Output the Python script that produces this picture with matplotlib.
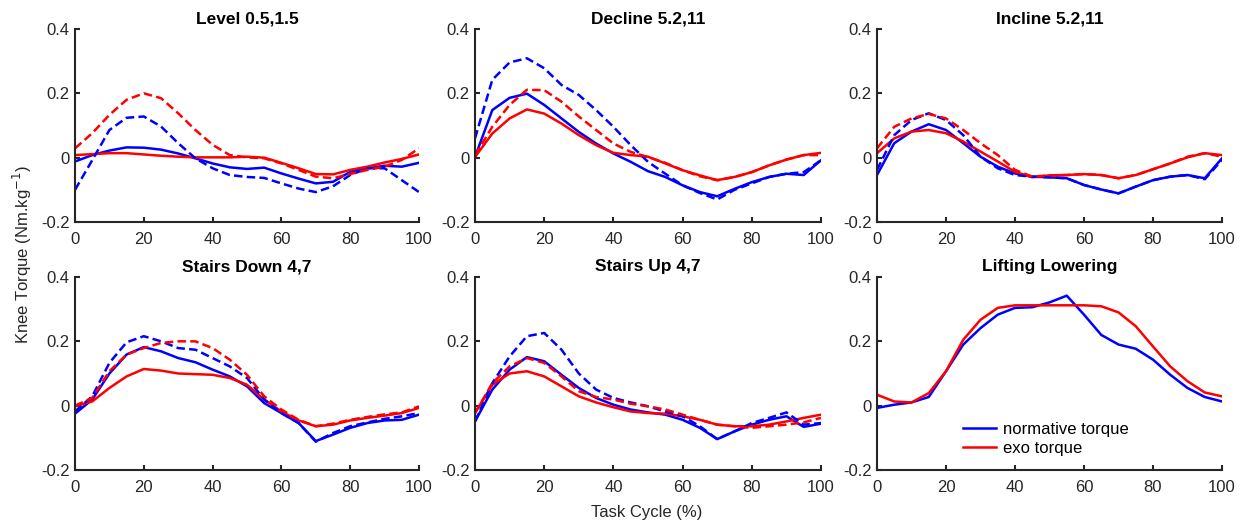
import numpy as np
import matplotlib
matplotlib.use("Agg")
import matplotlib.pyplot as plt

plt.rcParams['font.family'] = ['Liberation Sans', 'DejaVu Sans']

titles = ["Level 0.5,1.5", "Decline 5.2,11", "Incline 5.2,11",
          "Stairs Down 4,7", "Stairs Up 4,7", "Lifting Lowering"]

x = [0, 5, 10, 15, 20, 25, 30, 35, 40, 45, 50, 55, 60, 65, 70, 75, 80, 85, 90, 95, 100]

# Level 0.5,1.5
level_norm = [-0.012, 0.008, 0.022, 0.032, 0.031, 0.025, 0.013, -0.002, -0.018, -0.030, -0.035, -0.031,
              -0.049, -0.065, -0.080, -0.075, -0.044, -0.033, -0.025, -0.028, -0.016]
level_norm_d = [-0.100, -0.008, 0.086, 0.124, 0.128, 0.097, 0.045, -0.002, -0.033, -0.054, -0.060, -0.063,
                -0.080, -0.096, -0.107, -0.089, -0.054, -0.033, -0.033, -0.070, -0.107]
level_exo = [0.008, 0.011, 0.014, 0.014, 0.010, 0.006, 0.003, 0.001, 0.001, 0.001, 0.003, 0.000,
             -0.016, -0.033, -0.051, -0.052, -0.038, -0.028, -0.015, -0.004, 0.010]
level_exo_d = [0.029, 0.076, 0.133, 0.180, 0.200, 0.185, 0.138, 0.086, 0.040, 0.008, 0.001, -0.002,
               -0.018, -0.038, -0.059, -0.064, -0.051, -0.038, -0.028, -0.007, 0.029]

# Decline 5.2,11
dec_norm = [0.002, 0.148, 0.186, 0.199, 0.164, 0.122, 0.080, 0.044, 0.013, -0.013, -0.042, -0.060,
            -0.086, -0.107, -0.120, -0.097, -0.076, -0.060, -0.050, -0.054, -0.008]
dec_norm_d = [0.060, 0.242, 0.296, 0.309, 0.278, 0.226, 0.195, 0.148, 0.096, 0.039, -0.013, -0.050,
              -0.086, -0.110, -0.130, -0.100, -0.080, -0.060, -0.050, -0.045, -0.008]
dec_exo = [0.002, 0.075, 0.122, 0.150, 0.137, 0.106, 0.070, 0.039, 0.015, 0.008, 0.003, -0.018,
           -0.039, -0.055, -0.070, -0.060, -0.045, -0.024, -0.006, 0.008, 0.015]
dec_exo_d = [0.008, 0.096, 0.164, 0.211, 0.210, 0.174, 0.128, 0.086, 0.044, 0.018, 0.002, -0.016,
             -0.039, -0.058, -0.070, -0.060, -0.045, -0.024, -0.006, 0.008, 0.008]

# Incline 5.2,11
inc_norm = [-0.054, 0.045, 0.081, 0.104, 0.086, 0.045, 0.003, -0.028, -0.049, -0.059, -0.061, -0.064,
            -0.085, -0.099, -0.111, -0.090, -0.070, -0.059, -0.054, -0.064, -0.002]
inc_norm_d = [-0.038, 0.070, 0.117, 0.138, 0.117, 0.070, 0.003, -0.033, -0.054, -0.059, -0.061, -0.064,
              -0.085, -0.099, -0.111, -0.090, -0.070, -0.059, -0.054, -0.067, -0.007]
inc_exo = [0.014, 0.060, 0.081, 0.086, 0.076, 0.050, 0.019, -0.012, -0.044, -0.061, -0.055, -0.054,
           -0.051, -0.054, -0.064, -0.054, -0.036, -0.018, 0.001, 0.014, 0.008]
inc_exo_d = [0.029, 0.096, 0.122, 0.136, 0.122, 0.086, 0.045, 0.008, -0.038, -0.059, -0.055, -0.054,
             -0.051, -0.054, -0.064, -0.054, -0.036, -0.018, 0.003, 0.014, 0.003]

# Stairs Down 4,7
sd_norm = [-0.025, 0.019, 0.100, 0.159, 0.182, 0.169, 0.148, 0.135, 0.112, 0.091, 0.060, 0.008,
           -0.023, -0.054, -0.110, -0.090, -0.069, -0.054, -0.046, -0.044, -0.028]
sd_norm_d = [-0.018, 0.029, 0.133, 0.197, 0.216, 0.200, 0.179, 0.174, 0.148, 0.122, 0.086, 0.019,
             -0.023, -0.054, -0.112, -0.085, -0.064, -0.052, -0.041, -0.033, -0.023]
sd_exo = [-0.002, 0.013, 0.055, 0.091, 0.114, 0.109, 0.100, 0.098, 0.096, 0.086, 0.065, 0.019,
          -0.018, -0.046, -0.064, -0.059, -0.046, -0.038, -0.031, -0.023, -0.007]
sd_exo_d = [0.000, 0.024, 0.107, 0.159, 0.179, 0.195, 0.200, 0.200, 0.179, 0.143, 0.096, 0.029,
            -0.012, -0.044, -0.064, -0.056, -0.044, -0.035, -0.027, -0.021, -0.002]

# Stairs Up 4,7
su_norm = [-0.049, 0.050, 0.112, 0.151, 0.138, 0.096, 0.055, 0.024, 0.003, -0.012, -0.021, -0.028,
           -0.044, -0.069, -0.104, -0.080, -0.059, -0.044, -0.033, -0.066, -0.056]
su_norm_d = [-0.049, 0.070, 0.153, 0.216, 0.226, 0.174, 0.100, 0.050, 0.024, 0.010, -0.002, -0.018,
             -0.033, -0.064, -0.104, -0.080, -0.054, -0.038, -0.021, -0.059, -0.054]
su_exo = [-0.023, 0.065, 0.100, 0.107, 0.091, 0.060, 0.029, 0.010, -0.005, -0.018, -0.023, -0.025,
          -0.033, -0.044, -0.059, -0.064, -0.064, -0.059, -0.049, -0.038, -0.028]
su_exo_d = [-0.023, 0.070, 0.122, 0.148, 0.133, 0.091, 0.045, 0.027, 0.019, 0.006, -0.002, -0.012,
            -0.028, -0.044, -0.059, -0.064, -0.069, -0.064, -0.059, -0.052, -0.038]

# Lifting Lowering
lift_norm = [-0.007, 0.003, 0.010, 0.027, 0.107, 0.190, 0.241, 0.283, 0.304, 0.306, 0.321, 0.342,
             0.283, 0.220, 0.190, 0.177, 0.143, 0.096, 0.055, 0.027, 0.013]
lift_exo = [0.034, 0.013, 0.010, 0.039, 0.107, 0.205, 0.267, 0.304, 0.312, 0.312, 0.312, 0.312,
            0.312, 0.309, 0.290, 0.247, 0.184, 0.122, 0.076, 0.041, 0.029]

panels = [
    (level_norm, level_norm_d, level_exo, level_exo_d),
    (dec_norm, dec_norm_d, dec_exo, dec_exo_d),
    (inc_norm, inc_norm_d, inc_exo, inc_exo_d),
    (sd_norm, sd_norm_d, sd_exo, sd_exo_d),
    (su_norm, su_norm_d, su_exo, su_exo_d),
    (lift_norm, None, lift_exo, None),
]

W, H = 1244, 526
fig = plt.figure(figsize=(W / 100, H / 100), dpi=100)

lefts = [75, 475, 877]
rights = [419, 821, 1222]
tops = [29, 277]
bottoms = [222, 470]

BLUE = (0, 0, 1)
RED = (1, 0, 0)
LW = 1.8
DASH = (3.4, 1.7)
SPINE = '#262626'
FS = 12

for i, (title, data) in enumerate(zip(titles, panels)):
    r, c = divmod(i, 3)
    l = lefts[c] / W
    w = (rights[c] - lefts[c]) / W
    b = 1 - bottoms[r] / H
    h = (bottoms[r] - tops[r]) / H
    ax = fig.add_axes([l, b, w, h])
    n, nd, e, ed = data
    ln1, = ax.plot(x, n, color=BLUE, lw=LW, label='normative torque')
    ln2, = ax.plot(x, e, color=RED, lw=LW, label='exo torque')
    if nd is not None:
        ax.plot(x, nd, color=BLUE, lw=LW, dashes=DASH)
    if ed is not None:
        ax.plot(x, ed, color=RED, lw=LW, dashes=DASH)
    ax.set_xlim(0, 100)
    ax.set_ylim(-0.2, 0.4)
    ax.set_xticks([0, 20, 40, 60, 80, 100])
    ax.set_yticks([-0.2, 0, 0.2, 0.4])
    ax.set_yticklabels(['-0.2', '0', '0.2', '0.4'])
    for s in ['top', 'right']:
        ax.spines[s].set_visible(False)
    for s in ['left', 'bottom']:
        ax.spines[s].set_color(SPINE)
        ax.spines[s].set_linewidth(1.5)
    ax.tick_params(direction='in', length=3.5, width=1.5, color=SPINE,
                   labelsize=FS, labelcolor='#262626')
    ax.tick_params(axis='x', pad=7)
    ax.tick_params(axis='y', pad=4)
    ax.set_title(title, fontsize=12.5, fontweight='bold', pad=4)
    if i == 5:
        ax.legend(handles=[ln1, ln2], loc='lower left', bbox_to_anchor=(0.23, 0.04),
                  frameon=False, fontsize=FS, handlelength=2.0, handletextpad=0.4,
                  labelspacing=0.2, borderaxespad=0.0)

fig.text(22 / W, 1 - 255 / H, 'Knee Torque (Nm.kg$^{-1}$)', rotation=90,
         ha='center', va='center', fontsize=FS, color='#262626')
fig.text(647 / W, 1 - 513 / H, 'Task Cycle (%)', ha='center', va='center',
         fontsize=FS, color='#262626')

fig.savefig('out.png', dpi=100)
